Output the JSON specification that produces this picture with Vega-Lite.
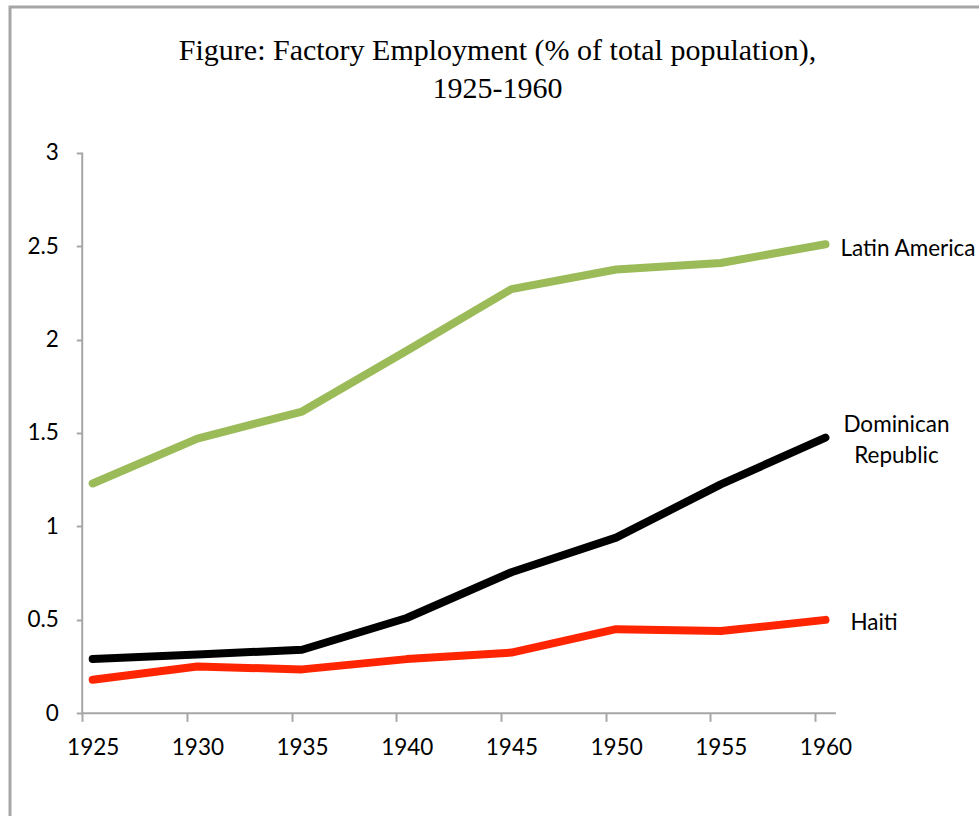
{
  "$schema": "https://vega.github.io/schema/vega-lite/v6.json",
  "width": 971,
  "height": 811,
  "autosize": {"type": "none"},
  "padding": {"left": 10, "top": 7, "right": 0, "bottom": 0},
  "background": "white",
  "title": {
    "text": ["Figure: Factory Employment (% of total population),", "1925-1960"],
    "font": "Liberation Serif",
    "fontSize": 30,
    "fontWeight": "normal",
    "color": "black",
    "lineHeight": 38,
    "anchor": "middle",
    "frame": "group",
    "dx": 2,
    "offset": -97
  },
  "config": {
    "view": {"stroke": "#a6a6a6", "strokeWidth": 3},
    "axis": {"grid": false}
  },
  "datasets": {
    "series": [
      {"year": 1925, "country": "Latin America", "value": 1.23},
      {"year": 1930, "country": "Latin America", "value": 1.47},
      {"year": 1935, "country": "Latin America", "value": 1.615},
      {"year": 1940, "country": "Latin America", "value": 1.94},
      {"year": 1945, "country": "Latin America", "value": 2.27},
      {"year": 1950, "country": "Latin America", "value": 2.375},
      {"year": 1955, "country": "Latin America", "value": 2.41},
      {"year": 1960, "country": "Latin America", "value": 2.51},
      {"year": 1925, "country": "Dominican Republic", "value": 0.29},
      {"year": 1930, "country": "Dominican Republic", "value": 0.315},
      {"year": 1935, "country": "Dominican Republic", "value": 0.34},
      {"year": 1940, "country": "Dominican Republic", "value": 0.51},
      {"year": 1945, "country": "Dominican Republic", "value": 0.755},
      {"year": 1950, "country": "Dominican Republic", "value": 0.94},
      {"year": 1955, "country": "Dominican Republic", "value": 1.225},
      {"year": 1960, "country": "Dominican Republic", "value": 1.475},
      {"year": 1925, "country": "Haiti", "value": 0.18},
      {"year": 1930, "country": "Haiti", "value": 0.25},
      {"year": 1935, "country": "Haiti", "value": 0.235},
      {"year": 1940, "country": "Haiti", "value": 0.29},
      {"year": 1945, "country": "Haiti", "value": 0.325},
      {"year": 1950, "country": "Haiti", "value": 0.45},
      {"year": 1955, "country": "Haiti", "value": 0.44},
      {"year": 1960, "country": "Haiti", "value": 0.5}
    ],
    "axislines": [
      {"x": 1924.5, "x2": 1960.5, "y": 0, "y2": 0},
      {"x": 1924.5, "x2": 1924.5, "y": 0, "y2": 3}
    ]
  },
  "layer": [
    {
      "data": {"name": "axislines"},
      "mark": {"type": "rule", "color": "#a6a6a6", "strokeWidth": 2},
      "encoding": {
        "x": {"field": "x", "type": "quantitative", "scale": {"domain": [1921.05, 1967.43], "nice": false, "zero": false},
          "axis": {"orient": "bottom", "offset": -104.7, "domain": false, "values": [1925, 1930, 1935, 1940, 1945, 1950, 1955, 1960], "format": "d", "title": null,
            "tickOffset": -10.47, "labelOffset": 10.47, "tickSize": 8, "tickWidth": 2, "tickColor": "#a6a6a6",
            "labelFont": "Lato", "labelFontSize": 22.5, "labelColor": "black", "labelPadding": 15, "labelFlush": false, "labelOverlap": false}},
        "x2": {"field": "x2"},
        "y": {"field": "y", "type": "quantitative", "scale": {"domain": [-0.5603, 3.7797], "nice": false, "zero": false},
          "axis": {"orient": "left", "offset": -72.3, "domain": false, "values": [0, 0.5, 1, 1.5, 2, 2.5, 3], "format": ".1~f", "title": null,
            "tickSize": 6, "tickWidth": 2, "tickColor": "#a6a6a6",
            "labelFont": "Lato", "labelFontSize": 22.5, "labelColor": "black", "labelPadding": 18, "labelFlush": false, "labelOverlap": false}},
        "y2": {"field": "y2"}
      }
    },
    {
      "data": {"name": "series"},
      "mark": {"type": "line", "strokeWidth": 8, "strokeCap": "round", "strokeJoin": "round"},
      "encoding": {
        "x": {"field": "year", "type": "quantitative"},
        "y": {"field": "value", "type": "quantitative"},
        "color": {"field": "country", "type": "nominal",
          "scale": {"domain": ["Latin America", "Dominican Republic", "Haiti"], "range": ["#9BBB59", "#000000", "#FF2500"]},
          "legend": null}
      }
    },
    {
      "data": {"name": "series"},
      "transform": [{"filter": "datum.year == 1960 && datum.country == 'Latin America'"}],
      "mark": {"type": "text", "align": "left", "baseline": "middle", "dx": 15, "dy": 5, "font": "Lato", "fontSize": 22.5, "color": "black"},
      "encoding": {
        "x": {"field": "year", "type": "quantitative"},
        "y": {"field": "value", "type": "quantitative"},
        "text": {"field": "country"}
      }
    },
    {
      "data": {"name": "series"},
      "transform": [{"filter": "datum.year == 1960 && datum.country == 'Haiti'"}],
      "mark": {"type": "text", "align": "left", "baseline": "middle", "dx": 25, "dy": 3, "font": "Lato", "fontSize": 22.5, "color": "black"},
      "encoding": {
        "x": {"field": "year", "type": "quantitative"},
        "y": {"field": "value", "type": "quantitative"},
        "text": {"field": "country"}
      }
    },
    {
      "data": {"name": "series"},
      "transform": [{"filter": "datum.year == 1960 && datum.country == 'Dominican Republic'"}],
      "mark": {"type": "text", "align": "center", "baseline": "middle", "dx": 71, "dy": -13, "font": "Lato", "fontSize": 22.5, "color": "black", "lineHeight": 31, "text": ["Dominican", "Republic"]},
      "encoding": {
        "x": {"field": "year", "type": "quantitative"},
        "y": {"field": "value", "type": "quantitative"}
      }
    }
  ]
}
